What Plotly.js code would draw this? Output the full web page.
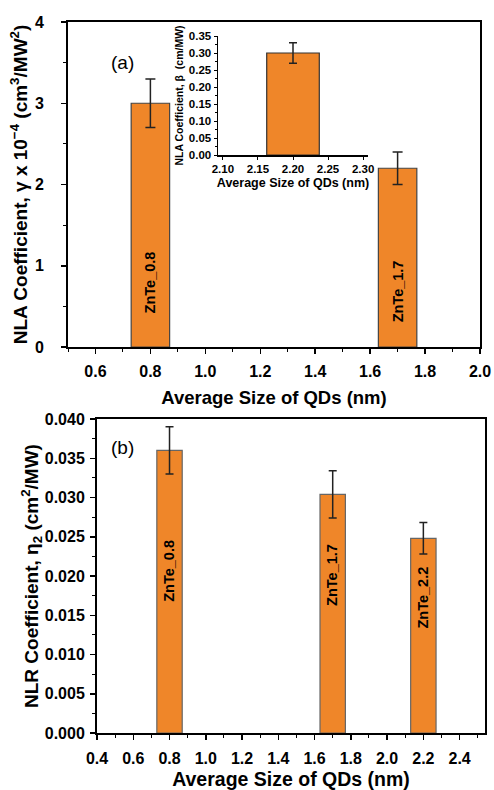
<!DOCTYPE html>
<html>
<head>
<meta charset="utf-8">
<script src="https://cdn.plot.ly/plotly-3.0.1.min.js"></script>
<style>html,body{margin:0;padding:0;background:#fff;}#chart{width:494px;height:790px;}</style>
</head>
<body>
<div id="chart"></div>
<script>
// ---- Data ----
const sizesA = [0.8, 1.7];
const gammaA = [3.0, 2.2];
const gammaErrA = [0.3, 0.2];
const labelsA = ['ZnTe_0.8', 'ZnTe_1.7'];

const sizesInset = [2.2];
const betaInset = [0.30];
const betaErrInset = [0.03];

const sizesB = [0.8, 1.7, 2.2];
const etaB = [0.036, 0.0304, 0.0248];
const etaErrB = [0.003, 0.003, 0.002];
const labelsB = ['ZnTe_0.8', 'ZnTe_1.7', 'ZnTe_2.2'];

// ---- Style ----
const FONT = 'Liberation Sans, Arial, sans-serif';
const BAR = '#EF8629';
const W = 494, H = 790;
const dx = (a, b) => [a / W, b / W];
const dy = (top, bot) => [1 - bot / H, 1 - top / H];

function barTrace(x, y, err, xa, ya, width, errw, outline) {
  return {
    type: 'bar', x: x, y: y, xaxis: xa, yaxis: ya, width: width,
    marker: {color: BAR, line: {color: outline, width: 1.2}},
    error_y: {type: 'data', array: err, visible: true, color: '#222', thickness: 1.5, width: errw},
    showlegend: false, hoverinfo: 'x+y'
  };
}

const data = [
  barTrace(sizesA, gammaA, gammaErrA, 'x', 'y', 0.14, 5, '#444'),
  barTrace(sizesInset, betaInset, betaErrInset, 'x2', 'y2', 0.075, 4, '#333'),
  barTrace(sizesB, etaB, etaErrB, 'x3', 'y3', 0.14, 4, '#666')
];

function axisBase(extra) {
  return Object.assign({
    showline: true, linecolor: '#000', linewidth: 2, mirror: true,
    ticks: 'outside', ticklen: 5, tickwidth: 1.5, tickcolor: '#000',
    showgrid: false, zeroline: false, fixedrange: true,
    tickfont: {family: FONT, size: 16, color: '#000', weight: 'bold'}
  }, extra);
}
function titleObj(text, size, standoff) {
  return {text: text, font: {family: FONT, size: size, color: '#000', weight: 'bold'}, standoff: standoff};
}

const yLabA = [0.80, 0.68];
const yLabB = [0.0206, 0.0201, 0.0173];
const annotations = [];
labelsA.forEach((t, i) => annotations.push({
  xref: 'x', yref: 'y', x: sizesA[i], y: yLabA[i], text: t, textangle: -90, showarrow: false,
  xanchor: 'center', yanchor: 'middle',
  font: {family: FONT, size: 14.5, color: '#000', weight: 'bold'}
}));
labelsB.forEach((t, i) => annotations.push({
  xref: 'x3', yref: 'y3', x: sizesB[i], y: yLabB[i], text: t, textangle: -90, showarrow: false,
  xanchor: 'center', yanchor: 'middle',
  font: {family: FONT, size: 14.5, color: '#000', weight: 'bold'}
}));
annotations.push({xref: 'paper', yref: 'paper', x: 122 / W, y: 1 - 63 / H, text: '(a)', showarrow: false,
  xanchor: 'center', yanchor: 'middle', font: {family: FONT, size: 19, color: '#000'}});
annotations.push({xref: 'paper', yref: 'paper', x: 122 / W, y: 1 - 447 / H, text: '(b)', showarrow: false,
  xanchor: 'center', yanchor: 'middle', font: {family: FONT, size: 19, color: '#000'}});

const layout = {
  width: W, height: H,
  margin: {l: 0, r: 0, t: 0, b: 0},
  paper_bgcolor: '#fff', plot_bgcolor: '#fff',
  showlegend: false,
  xaxis: axisBase({
    domain: dx(68, 480), range: [0.5, 2.0], anchor: 'y',
    dtick: 0.2, tick0: 0, tickformat: '.1f', ticklabelstandoff: 4,
    minor: {dtick: 0.1, tick0: 0, ticks: 'outside', ticklen: 3, tickcolor: '#000', tickwidth: 1},
    title: titleObj('Average Size of QDs (nm)', 18.5, 12)
  }),
  yaxis: axisBase({
    domain: dy(22, 347), range: [0, 4], anchor: 'x',
    dtick: 1, tick0: 0, ticklabelstandoff: 14,
    minor: {dtick: 0.5, tick0: 0, ticks: 'outside', ticklen: 3, tickcolor: '#000', tickwidth: 1},
    title: titleObj('NLA Coefficient, γ x 10<sup>−4</sup> (cm<sup>3</sup>/MW<sup>2</sup>)', 19, 2)
  }),
  xaxis2: axisBase({
    domain: dx(218, 368), range: [2.093, 2.307], anchor: 'y2', mirror: false, linewidth: 1.5,
    dtick: 0.05, tick0: 2.1, tickformat: '.2f', ticklen: 3, tickwidth: 1,
    tickfont: {family: FONT, size: 11.5, color: '#000', weight: 'bold'},
    title: titleObj('Average Size of QDs (nm)', 12.5, 4)
  }),
  yaxis2: axisBase({
    domain: dy(36, 155), range: [0, 0.35], anchor: 'x2', mirror: false, linewidth: 1.5,
    dtick: 0.05, tick0: 0, tickformat: '.2f', ticklen: 3, tickwidth: 1,
    minor: {dtick: 0.025, tick0: 0, ticks: 'outside', ticklen: 2, tickcolor: '#000', tickwidth: 1},
    tickfont: {family: FONT, size: 11.5, color: '#000', weight: 'bold'},
    title: titleObj('NLA Coefficient, β  (cm/MW)', 10.5, 3)
  }),
  xaxis3: axisBase({
    domain: dx(97, 485), range: [0.4, 2.54], anchor: 'y3',
    dtick: 0.2, tick0: 0, tickformat: '.1f', ticklabelstandoff: 5,
    minor: {dtick: 0.1, tick0: 0, ticks: 'outside', ticklen: 3, tickcolor: '#000', tickwidth: 1},
    title: titleObj('Average Size of QDs (nm)', 19.5, 9)
  }),
  yaxis3: axisBase({
    domain: dy(419, 733), range: [0, 0.04], anchor: 'x3',
    dtick: 0.005, tick0: 0, tickformat: '.3f', ticklabelstandoff: 2,
    minor: {dtick: 0.0025, tick0: 0, ticks: 'outside', ticklen: 3, tickcolor: '#000', tickwidth: 1},
    title: titleObj('NLR Coefficient, η<sub>2</sub> (cm<sup>2</sup>/MW)', 19, 0)
  }),
  annotations: annotations
};

Plotly.newPlot('chart', data, layout, {displayModeBar: false, staticPlot: true});
</script>
</body>
</html>
